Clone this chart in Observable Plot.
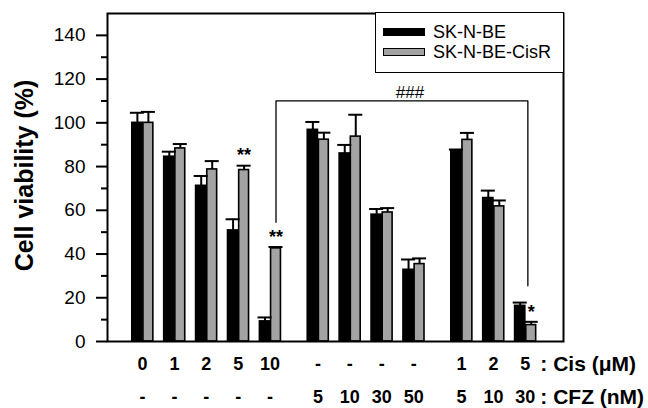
<!DOCTYPE html>
<html><head><meta charset="utf-8">
<script src="https://cdn.jsdelivr.net/npm/d3@7"></script>
<script src="https://cdn.jsdelivr.net/npm/@observablehq/plot@0.6"></script>
<style>
body{margin:0;background:#fff;}
#chart{position:relative;width:648px;height:408px;font-family:"Liberation Sans",Arial,sans-serif;}
#chart svg{position:absolute;left:0;top:0;}
.lg-box{position:absolute;left:375px;top:12px;width:189px;height:61px;border:1.5px solid #000;background:#fff;box-sizing:border-box;}
.sw{position:absolute;left:383px;width:42px;height:8px;box-sizing:border-box;border:1.5px solid #000;}
.lt{position:absolute;left:433px;font-size:18px;line-height:20px;white-space:nowrap;color:#000;}
</style></head><body><div id="chart"></div>
<script>
// ---- data ----
const cisLabels = ["0","1","2","5","10","-","-","-","-","1","2","5"];
const cfzLabels = ["-","-","-","-","-","5","10","30","50","5","10","30"];
const seriesNames = ["SK-N-BE","SK-N-BE-CisR"];
const seriesColors = ["#000000","#a3a3a3"];
const skbeValues = [100,84.5,71.2,50.8,9.2,96.8,86,58,32.8,87.4,65.6,16.3];
const skbeErr    = [4.6,2.3,4.5,5.1,1.8,3.6,3.9,2.6,4.7,0.4,3.4,1.5];
const cisrValues = [100,88.3,78.7,78.4,42.6,92.3,93.7,59,35.4,92.2,61.8,7.5];
const cisrErr    = [5,2,3.8,2,0.6,3.2,10,2,2.6,3.2,2.7,1.5];
const stars = [{group:3,series:1,text:"**"},{group:4,series:1,text:"**"},{group:11,series:1,text:"*"}];
const bracket = {from:4, to:11, level:110, fromBottom:54.5, toBottom:25.5, text:"###"};
const yTicks = [0,20,40,60,80,100,120,140];
const yMinorTicks = [10,30,50,70,90,110,130];
const cisSuffix = ": Cis (\u03bcM)";
const cfzSuffix = ": CFZ (nM)";
const yTitle = "Cell viability (%)";

// ---- layout helpers ----
const slot = i => i + (i >= 5 ? 0.5 : 0) + (i >= 9 ? 0.5 : 0);
const barSpan = [[-0.32, 0.0], [0.03, 0.34]];
const center = (i, s) => slot(i) + (barSpan[s][0] + barSpan[s][1]) / 2;
const values = [skbeValues, cisrValues];
const errs = [skbeErr, cisrErr];
const rows = [];
cisLabels.forEach((_, i) => [0, 1].forEach(s => rows.push({
  i, s, name: seriesNames[s], value: values[s][i], err: errs[s][i],
  x1: slot(i) + barSpan[s][0], x2: slot(i) + barSpan[s][1], xc: center(i, s)
})));
const starRows = stars.map(d => ({...d, x: center(d.group, d.series), y: values[d.series][d.group] + errs[d.series][d.group]}));
const bx1 = center(bracket.from, 1), bx2 = slot(bracket.to) + 0.08;
const bracketPts = [
  {x: bx1, y: bracket.fromBottom}, {x: bx1, y: bracket.level},
  {x: bx2, y: bracket.level}, {x: bx2, y: bracket.toBottom}
];
const idx = cisLabels.map((_, i) => i);

const plot = Plot.plot({
  width: 648, height: 408,
  marginLeft: 107, marginRight: 85, marginTop: 13, marginBottom: 67,
  style: {fontFamily: "'Liberation Sans', Arial, sans-serif", fontSize: "19px", color: "#000", background: "transparent", overflow: "visible"},
  x: {domain: [-1.097, 13.197], axis: null},
  y: {domain: [0, 150]},
  marks: [
    Plot.rectY(rows, {x1: "x1", x2: "x2", y1: 0, y2: "value", fill: d => seriesColors[d.s], stroke: "#000", strokeWidth: 1.6}),
    Plot.ruleX(rows, {x: "xc", y1: "value", y2: d => d.value + d.err, stroke: "#000", strokeWidth: 2}),
    Plot.ruleY(rows, {y: d => d.value + d.err, x1: d => d.xc - 0.22, x2: d => d.xc + 0.22, stroke: "#000", strokeWidth: 2}),
    Plot.text(starRows, {x: "x", y: "y", text: "text", dy: -10, fontSize: 18, fontWeight: "bold"}),
    Plot.line(bracketPts, {x: "x", y: "y", stroke: "#000", strokeWidth: 1.3}),
    Plot.text([bracket], {x: (bx1 + bx2) / 2 + 0.25, y: bracket.level, text: "text", lineAnchor: "bottom", dy: -3, fontSize: 17}),
    Plot.frame({stroke: "#000", strokeWidth: 2}),
    Plot.axisY({ticks: yTicks, tickSize: 11, tickPadding: 11, tickFormat: d => d, label: null, strokeWidth: 2, fontSize: 19}),
    Plot.axisY({ticks: yMinorTicks, tickSize: 6, tickFormat: null, text: null, label: null, strokeWidth: 2}),
    Plot.text(idx, {x: i => slot(i), text: i => cisLabels[i], frameAnchor: "bottom", lineAnchor: "middle", dy: 23, fontWeight: "bold", fontSize: 18}),
    Plot.text(idx, {x: i => slot(i), text: i => cfzLabels[i], frameAnchor: "bottom", lineAnchor: "middle", dy: 56, fontWeight: "bold", fontSize: 18}),
    Plot.text([cisSuffix], {x: slot(11), text: d => d, frameAnchor: "bottom", lineAnchor: "middle", dy: 23, dx: 15, textAnchor: "start", fontWeight: "bold", fontSize: 21}),
    Plot.text([cfzSuffix], {x: slot(11), text: d => d, frameAnchor: "bottom", lineAnchor: "middle", dy: 56, dx: 15, textAnchor: "start", fontWeight: "bold", fontSize: 21}),
    Plot.text([yTitle], {frameAnchor: "left", text: d => d, rotate: -90, textAnchor: "middle", lineAnchor: "middle", dx: -83, dy: -2, fontWeight: "bold", fontSize: 25})
  ]
});
const chart = document.getElementById("chart");
chart.appendChild(plot);
// legend
const box = document.createElement("div"); box.className = "lg-box"; chart.appendChild(box);
seriesNames.forEach((n, s) => {
  const sw = document.createElement("div"); sw.className = "sw";
  sw.style.top = (27.5 + 20 * s) + "px"; sw.style.background = seriesColors[s];
  chart.appendChild(sw);
  const t = document.createElement("div"); t.className = "lt";
  t.style.top = (21.5 + 20 * s) + "px"; t.textContent = n;
  chart.appendChild(t);
});
</script></body></html>
